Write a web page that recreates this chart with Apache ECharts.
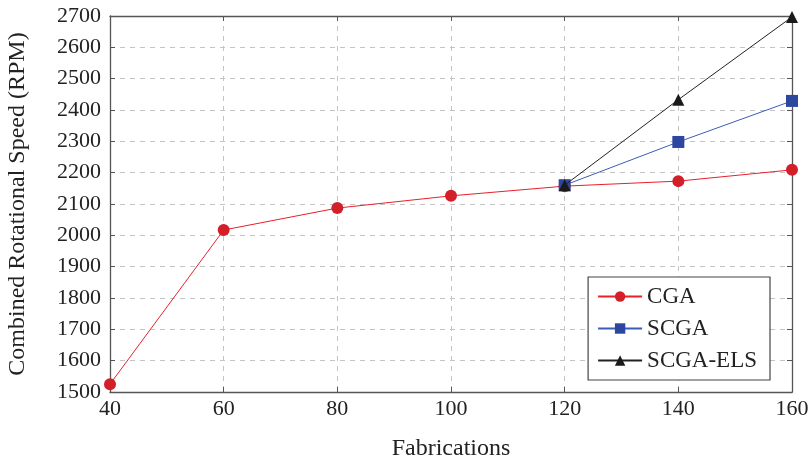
<!DOCTYPE html>
<html><head><meta charset="utf-8">
<script src="https://cdn.jsdelivr.net/npm/echarts@6/dist/echarts.min.js"></script>
<style>html,body{margin:0;padding:0;background:#fff}#c{width:810px;height:460px}</style>
</head><body><div id="c"></div>
<script>
const xValues = [40, 60, 80, 100, 120, 140, 160];
const cga = [1525, 2017, 2087, 2126, 2157, 2173, 2209];
const scgaX = [120, 140, 160];
const scga = [2160, 2298, 2429];
const elsX = [120, 140, 160];
const scgaEls = [2160, 2433, 2697];

const font = 'Liberation Serif';
const pair = (xs, ys) => xs.map((x, i) => [x, ys[i]]);
const chart = echarts.init(document.getElementById('c'));
const axisLine = {show: true, lineStyle: {color: '#555', width: 1.3}};
const tick = {show: true, inside: true, length: 5, lineStyle: {color: '#555'}};
const split = {show: true, lineStyle: {color: '#c4c4c4', type: [5, 5], width: 1}};
chart.setOption({
  animation: false,
  grid: {left: 110, right: 18, top: 16, bottom: 68, containLabel: false, outerBoundsMode: 'none'},
  legend: {
    right: 40, top: 277, orient: 'vertical',
    backgroundColor: '#fff', borderColor: '#444', borderWidth: 1.2,
    padding: [8, 13, 8, 9], itemGap: 9, itemWidth: 44, itemHeight: 13,
    textStyle: {fontFamily: font, fontSize: 23, color: '#222'},
    data: ['CGA', 'SCGA', 'SCGA-ELS']
  },
  xAxis: [{
    type: 'value', min: 40, max: 160, interval: 20,
    name: 'Fabrications', nameLocation: 'middle', nameGap: 45,
    nameTextStyle: {fontFamily: font, fontSize: 24, color: '#222'},
    axisLine, axisTick: tick, splitLine: split,
    axisLabel: {fontFamily: font, fontSize: 22, color: '#222', margin: 6}
  }, {
    type: 'value', min: 40, max: 160, interval: 20, position: 'top',
    axisLine, axisTick: tick, splitLine: {show: false}, axisLabel: {show: false}
  }],
  yAxis: [{
    type: 'value', min: 1500, max: 2700, interval: 100,
    name: 'Combined Rotational Speed (RPM)', nameLocation: 'middle', nameGap: 80,
    nameTextStyle: {fontFamily: font, fontSize: 24, color: '#222'},
    axisLine, axisTick: tick, splitLine: split,
    axisLabel: {fontFamily: font, fontSize: 22, color: '#222', margin: 9, formatter: v => String(v)}
  }, {
    type: 'value', min: 1500, max: 2700, interval: 100, position: 'right',
    axisLine, axisTick: tick, splitLine: {show: false}, axisLabel: {show: false}
  }],
  series: [
    {name: 'CGA', type: 'line', data: pair(xValues, cga), symbol: 'circle', symbolSize: 12,
     lineStyle: {color: '#e8202a', width: 1}, itemStyle: {color: '#d31f2a'}, z: 3},
    {name: 'SCGA', type: 'line', data: pair(scgaX, scga), symbol: 'rect', symbolSize: 12,
     lineStyle: {color: '#3b5cb8', width: 1}, itemStyle: {color: '#2d46a0'}, z: 4},
    {name: 'SCGA-ELS', type: 'line', data: pair(elsX, scgaEls), symbol: 'triangle', symbolSize: 12,
     lineStyle: {color: '#222', width: 1}, itemStyle: {color: '#1a1a1a'}, z: 5}
  ]
});
</script></body></html>
